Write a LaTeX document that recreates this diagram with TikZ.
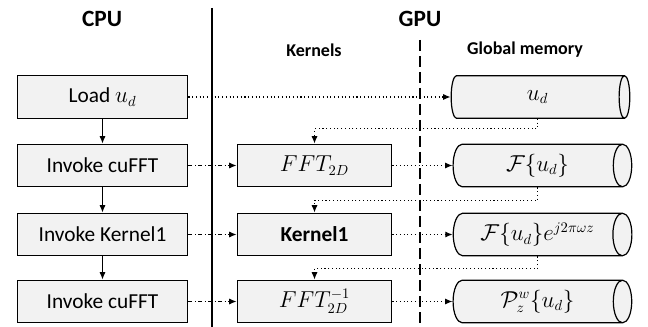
\documentclass[tikz,border=0pt]{standalone}
\usepackage{fontspec}
\setmainfont{Carlito}
\usepackage{amsmath}
\usetikzlibrary{arrows.meta,shapes.geometric}
\definecolor{boxgray}{HTML}{F2F2F2}
\tikzset{
	cpubox/.style={draw, line width=0.9pt, fill=boxgray, minimum width=128pt, minimum height=32pt, inner sep=0pt, font=\fontsize{16}{19}\selectfont},
	kernbox/.style={cpubox, minimum width=116pt},
	membox/.style={cylinder, draw, line width=0.9pt, fill=boxgray, shape aspect=0.8, minimum width=32pt, minimum height=134pt, inner sep=0pt, font=\fontsize{16}{19}\selectfont},
	headbig/.style={font=\fontsize{17.5}{21}\selectfont\bfseries},
	headsmall/.style={font=\fontsize{13.5}{16}\selectfont\bfseries},
	tip/.style={-{Latex[length=5.5pt,width=4.5pt]}},
	dotarrow/.style={tip, dotted, line width=0.8pt},
	calltarrow/.style={tip, dash dot, line width=0.8pt},
	flowarrow/.style={tip, line width=0.8pt}
}
\begin{document}
\begin{tikzpicture}[x=0.75pt, y=-0.75pt]
			%%%%% START %%%%%
			\useasboundingbox (0, 0) rectangle (648, 327);
			
			\node[headbig] (cpu) at (102, 19) {CPU};
			\node[headbig] (gpu) at (420, 19) {GPU};
			\node[headsmall] (kernels) at (314, 50) {Kernels};
			\node[headsmall] (global) at (525, 50) {Global memory};
			
			\draw[line width=1.8pt] (212, 8) -- (212, 327);
			\draw[line width=1.6pt, dash pattern=on 8pt off 4pt] (420, 40) -- (420, 327);
			
			\node[cpubox] (load) at (102.5, 97) {Load $u_d$};
			\node[cpubox] (inv1) at (102.5, 165.5) {Invoke cuFFT};
			\node[cpubox] (inv2) at (102.5, 234.5) {Invoke Kernel1};
			\node[cpubox] (inv3) at (102.5, 301.5) {Invoke cuFFT};
			
			\node[kernbox] (fft) at (314.5, 165.5) {$FFT_{2D}$};
			\node[kernbox] (kern) at (314.5, 234.5) {\bfseries Kernel1};
			\node[kernbox] (ifft) at (314.5, 301.5) {$FFT_{2D}^{-1}$};
			
			\node[membox] (mem1) at (537.5, 97) {$u_d$};
			\node[membox] (mem2) at (537.5, 165.5) {$\mathcal{F}\{u_d\}$};
			\node[membox] (mem3) at (537.5, 234.5) {$\mathcal{F}\{u_d\}e^{j2\pi\omega z}$};
			\node[membox] (mem4) at (537.5, 301.5) {$\mathcal{P}_z^w\{u_d\}$};
			
			\draw[flowarrow] (load) -- (inv1);
			\draw[flowarrow] (inv1) -- (inv2);
			\draw[flowarrow] (inv2) -- (inv3);
			
			\draw[calltarrow] (inv1) -- (fft);
			\draw[calltarrow] (inv2) -- (kern);
			\draw[calltarrow] (inv3) -- (ifft);
			
			\draw[dotarrow] (load) -- (mem1);
			\draw[dotarrow] (fft) -- (mem2);
			\draw[dotarrow] (kern) -- (mem3);
			\draw[dotarrow] (ifft) -- (mem4);
			
			\draw[dotarrow] (mem1.south) -- ++(0, 10) -| (fft.north);
			\draw[dotarrow] (mem2.south) -- ++(0, 13) -| (kern.north);
			\draw[dotarrow] (mem3.south) -- ++(0, 12) -| (ifft.north);
			
			%%%%% END %%%%%
\end{tikzpicture}
\end{document}
